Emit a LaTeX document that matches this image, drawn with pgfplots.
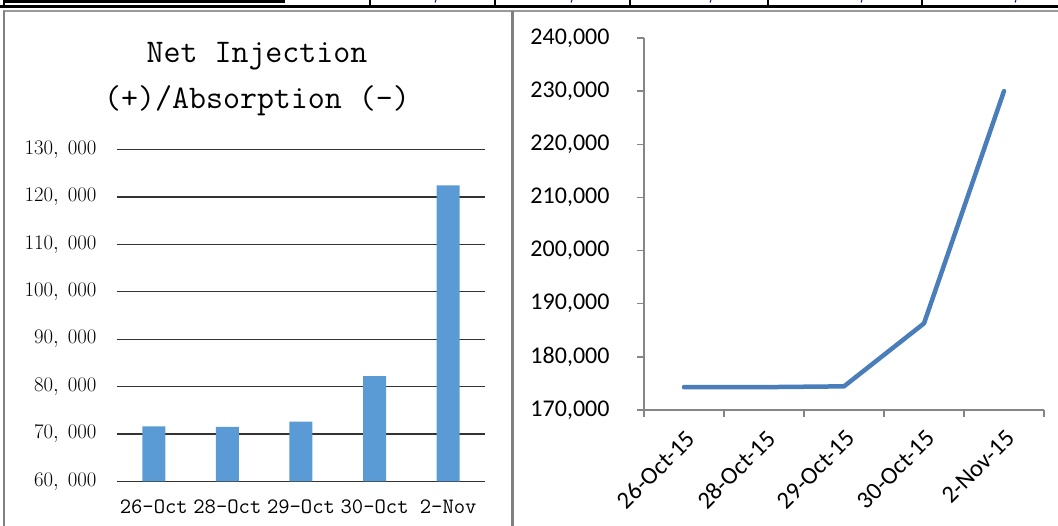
\documentclass[border=0pt]{standalone}
\usepackage{fontspec}
\usepackage{pgfplots}
\pgfplotsset{compat=1.18}
\newfontfamily\carlito{Carlito}
\definecolor{barblue}{HTML}{5B9BD5}
\definecolor{lineblue}{HTML}{4A7EBB}
\definecolor{axgray}{HTML}{868686}
\begin{document}
\begin{tikzpicture}[x=1pt,y=1pt]
% table fragment and panel frames
\fill[black] (3,526) rectangle (285,523);
\draw[black, line width=3pt] (0,519.5) -- (1058,519.5);
\foreach \xx in {4,370,495,630,768,922} \draw[black, line width=2pt] (\xx,526) -- (\xx,519);
\foreach \xx in {436,572,711,862,1016} \draw[blue!60!black, line width=1pt] (\xx,526) -- (\xx-1,523.5);
\draw[gray!80, line width=2pt] (3,515) -- (1058,515);
\draw[gray, line width=2pt] (4,515) -- (4,0);
\draw[gray, line width=3pt] (512,515) -- (512,0);
% title
\node[font=\fontsize{33}{38}\selectfont\ttfamily] at (257,470) {Net Injection};
\node[font=\fontsize{33}{38}\selectfont\ttfamily] at (257,425) {(+)/Absorption (-)};
% left bar chart
\begin{axis}[
  at={(117pt,44.5pt)}, anchor=south west,
  scale only axis, width=368pt, height=332pt,
  xmin=-0.5, xmax=4.5, ymin=60000, ymax=130000,
  ytick={60000,70000,...,130000},
  scaled y ticks=false,
  yticklabels={{$60,\;000$},{$70,\;000$},{$80,\;000$},{$90,\;000$},{$100,\;000$},{$110,\;000$},{$120,\;000$},{$130,\;000$}},
  xtick={0,1,2,3,4},
  xticklabels={26-Oct,28-Oct,29-Oct,30-Oct,2-Nov},
  axis line style={draw=none},
  major tick length=0pt,
  ymajorgrids,
  grid style={line width=1.3pt, color=black!80},
  yticklabel style={font=\fontsize{22}{26}\selectfont, xshift=-17pt},
  xticklabel style={font=\fontsize{22}{26}\selectfont\ttfamily, yshift=-15pt},
]
\addplot[ybar, bar width=23pt, fill=barblue, draw=none] coordinates {
 (0,71600) (1,71500) (2,72600) (3,82200) (4,122450)};
\end{axis}
% right line chart
\begin{axis}[
  at={(644pt,116pt)}, anchor=south west,
  scale only axis, width=400pt, height=372pt,
  xmin=-0.5, xmax=4.5, ymin=170000, ymax=240000,
  ytick={170000,180000,...,240000},
  scaled y ticks=false,
  yticklabels={{170,000},{180,000},{190,000},{200,000},{210,000},{220,000},{230,000},{240,000}},
  xtick={-0.5,0.5,1.5,2.5,3.5,4.5},
  xticklabels={},
  extra x ticks={0,1,2,3,4},
  extra x tick labels={26-Oct-15,28-Oct-15,29-Oct-15,30-Oct-15,2-Nov-15},
  extra x tick style={major tick length=0pt},
  xticklabel style={xshift=1pt, yshift=-14pt, rotate=45, anchor=north east, font=\fontsize{24.5}{28}\selectfont\carlito},
  axis x line*=bottom, axis y line*=left,
  axis line style={draw=axgray, line width=1.5pt, -},
  tick style={draw=axgray, line width=1.5pt},
  tick align=outside, major tick length=7pt,
  yticklabel style={font=\fontsize{24}{28}\selectfont\carlito, xshift=-24pt},
]
\addplot[color=lineblue, line width=4.5pt, line join=round, line cap=round, mark=none] coordinates {
 (0,174300) (1,174300) (2,174450) (3,186300) (4,230000)};
\end{axis}
\pgfresetboundingbox
\path[use as bounding box] (0,0) rectangle (1058,526);
\end{tikzpicture}
\end{document}
